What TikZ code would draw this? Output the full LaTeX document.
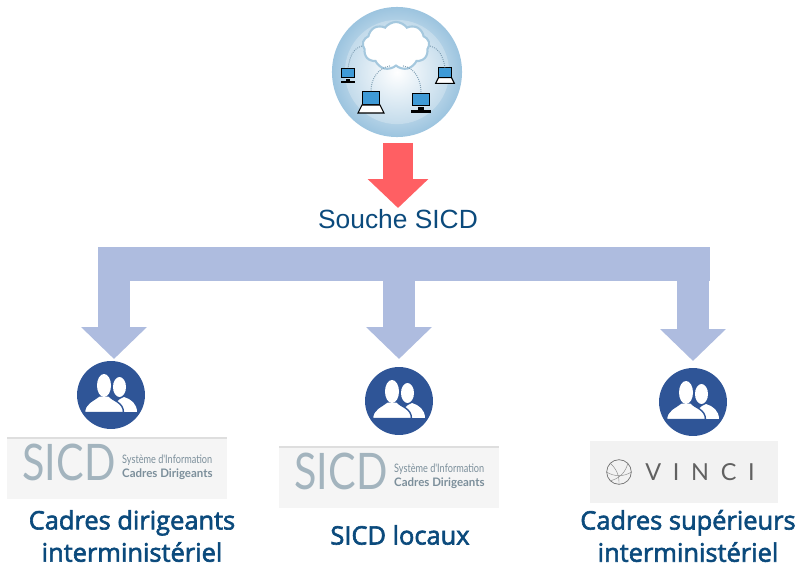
\documentclass[tikz,border=0pt]{standalone}
\usepackage{fontspec}
\setmainfont{Liberation Sans}
\newfontfamily\labelfont[FakeBold=2.4]{Open Sans}
\newfontfamily\logofont{Lato}
\usepackage{xcolor}
\usepackage{tikz}
\usetikzlibrary{positioning, arrows.meta, shapes.symbols}
\definecolor{labelblue}{HTML}{0B4A7C}
\definecolor{barblue}{HTML}{AEBCDF}
\definecolor{iconblue}{HTML}{2F5597}
\definecolor{arrowred}{HTML}{FF5F63}
\definecolor{globeblue}{HTML}{9CC4DF}
\definecolor{globepale}{HTML}{C3DBEB}
\definecolor{cloudline}{HTML}{A5C8DE}
\definecolor{screenblue}{HTML}{3F9AD6}
\definecolor{logogray}{HTML}{A3B4BE}
\definecolor{logotext}{HTML}{7C8F9B}
\tikzset{
	label/.style={text=labelblue,font=\labelfont\fontsize{21.7}{27.5}\selectfont,align=center,inner sep=0pt},
	logobox/.style={fill=black!4,inner sep=0pt,minimum width=187.7pt,minimum height=53pt},
	redarrow/.style={line width=25.6pt,arrowred,-{Triangle[width=50.3pt,length=24.7pt]}},
	bluearrow/.style={line width=27.3pt,barblue,-{Triangle[width=54.6pt,length=27.3pt]}},
	netline/.style={densely dotted,globeblue!80!black,line width=0.8pt},
	screenbox/.style={draw=black,line width=0.8pt,fill=screenblue,inner sep=0pt,minimum width=15pt,minimum height=11pt,transform shape},
	pics/monitor/.style={code={
		\node[screenbox] (-scr) at (0,0) {};
		\fill[black] (-3,8) rectangle (3,11);
		\fill[black] (-10,11) rectangle (10,14);
	}},
	pics/laptop/.style={code={
		\node[screenbox] (-scr) at (0,0) {};
		\draw[black,line width=0.9pt,fill=white] (-9,7) -- (9,7) -- (13,15) -- (-13,15) -- cycle;
	}},
	pics/people/.style={code={
		\node[circle,fill=iconblue,inner sep=0pt,minimum size=58pt] (-disc) at (0,0) {};
		\fill[white] (8.5,-8) ellipse (6.5 and 10);
		\fill[white] (2,17) .. controls (2,8) and (8,4) .. (13,2) .. controls (20,4) and (26,9) .. (26,17) -- cycle;
		\draw[iconblue,line width=1.2pt,fill=white] (-26.5,17.6) .. controls (-26.5,8) and (-18,6) .. (-12,1) -- (-2,1) .. controls (2,6) and (12.5,7) .. (12.5,17.6) -- cycle;
		\fill[white] (-7,-9.5) ellipse (7 and 11.5);
		\fill[iconblue] (-28,17) rectangle (28,19);
	}},
	pics/sicdlogo/.style={code={
		\node[logobox] (-box) at (0,0) {};
		\fill[black!13] (-110,-31) rectangle (110,-29);
		\node[text=logogray,font=\logofont\fontsize{43}{43}\selectfont,inner sep=0pt,xscale=0.82] (-name) at (-48,-5.5) {SICD};
		\node[text=logotext,font=\logofont\fontsize{10}{11}\selectfont,inner sep=0pt,anchor=west,xscale=0.78] (-suba) at (5,-8) {Système d'Information};
		\node[text=logotext,font=\logofont\bfseries\fontsize{10}{11}\selectfont,inner sep=0pt,anchor=west,xscale=0.98] (-subb) at (5,6) {Cadres Dirigeants};
	}}
}
\begin{document}
\begin{tikzpicture}[x=0.03cm,y=-0.03cm]
	\useasboundingbox (0,0) rectangle (800,566);
	% globe
	\node[circle,inner sep=0pt,minimum size=111pt,inner color=white,outer color=globeblue] (globe) at (397,72) {};
	\node[circle,inner sep=0pt,minimum size=89pt,inner color=white,outer color=globepale] (globecore) at (397,72) {};
	\node[cloud,cloud puffs=9,cloud puff arc=110,aspect=1.6,draw=cloudline,line width=1.8pt,fill=white,inner sep=0pt,minimum width=57pt,minimum height=41pt] (net) at (396,46) {};
	\pic[scale=0.72] (mon1) at (348,73) {monitor};
	\pic[scale=0.72] (lap1) at (445,72.5) {laptop};
	\pic (lap2) at (371,98) {laptop};
	\pic (mon2) at (421,99.5) {monitor};
	\draw[netline] (net.west) to[out=195,in=80] (mon1-scr.north);
	\draw[netline] (net.east) to[out=-15,in=100] (lap1-scr.north);
	\draw[netline] (net.south) ++(-6,-1) to[out=190,in=90] (lap2-scr.north);
	\draw[netline] (net.south) ++(7,-1) to[out=-10,in=90] (mon2-scr.north);
	% souche
	\coordinate (redstart) at (398,143);
	\coordinate (redtip) at (398,208);
	\draw[redarrow] (redstart) -- (redtip);
	\node[text=labelblue,font=\fontsize{22.5}{26}\selectfont,inner sep=0pt] (souche) at (398,219) {Souche SICD};
	% barre
	\node[fill=barblue,inner sep=0pt,minimum width=522pt,minimum height=29pt] (bar) at (404,264) {};
	\coordinate (tip1) at (114,359);
	\coordinate (tip2) at (399,359);
	\coordinate (tip3) at (693,361);
	\draw[bluearrow] (tip1 |- bar.south) -- (tip1);
	\draw[bluearrow] (tip2 |- bar.south) -- (tip2);
	\draw[bluearrow] (tip3 |- bar.south) -- (tip3);
	% colonnes
	\pic (people1) at (111,395) {people};
	\pic (people2) at (399,401) {people};
	\pic (people3) at (693,402) {people};
	\pic (logo1) at (117,468) {sicdlogo};
	\pic (logo2) at (389,477) {sicdlogo};
	\node[fill=black!5,inner sep=0pt,minimum width=161pt,minimum height=53pt] (logo3) at (684,472) {};
	\node[circle,draw=black!55,line width=0.6pt,inner sep=0pt,minimum size=21pt] (vinciring) at (619,472) {};
	\draw[black!45,line width=0.4pt] (vinciring.north west) to[bend left=25] (vinciring.south);
	\draw[black!45,line width=0.4pt] (vinciring.west) to[bend right=30] (vinciring.east);
	\draw[black!45,line width=0.4pt] (vinciring.north east) to[bend left=30] (vinciring.south west);
	\node[text=black!62,font=\logofont\fontsize{20}{20}\selectfont,inner sep=0pt] (vinci) at (700,472) {V\,\,\,I\,\,\,N\,\,\,C\,\,\,I};
	\node[label] (text1) at (132,536) {Cadres dirigeants\\interministériel};
	\node[label] (text2) at (400,535) {SICD locaux};
	\node[label] (text3) at (688,536) {Cadres supérieurs\\interministériel};
\end{tikzpicture}
\end{document}
